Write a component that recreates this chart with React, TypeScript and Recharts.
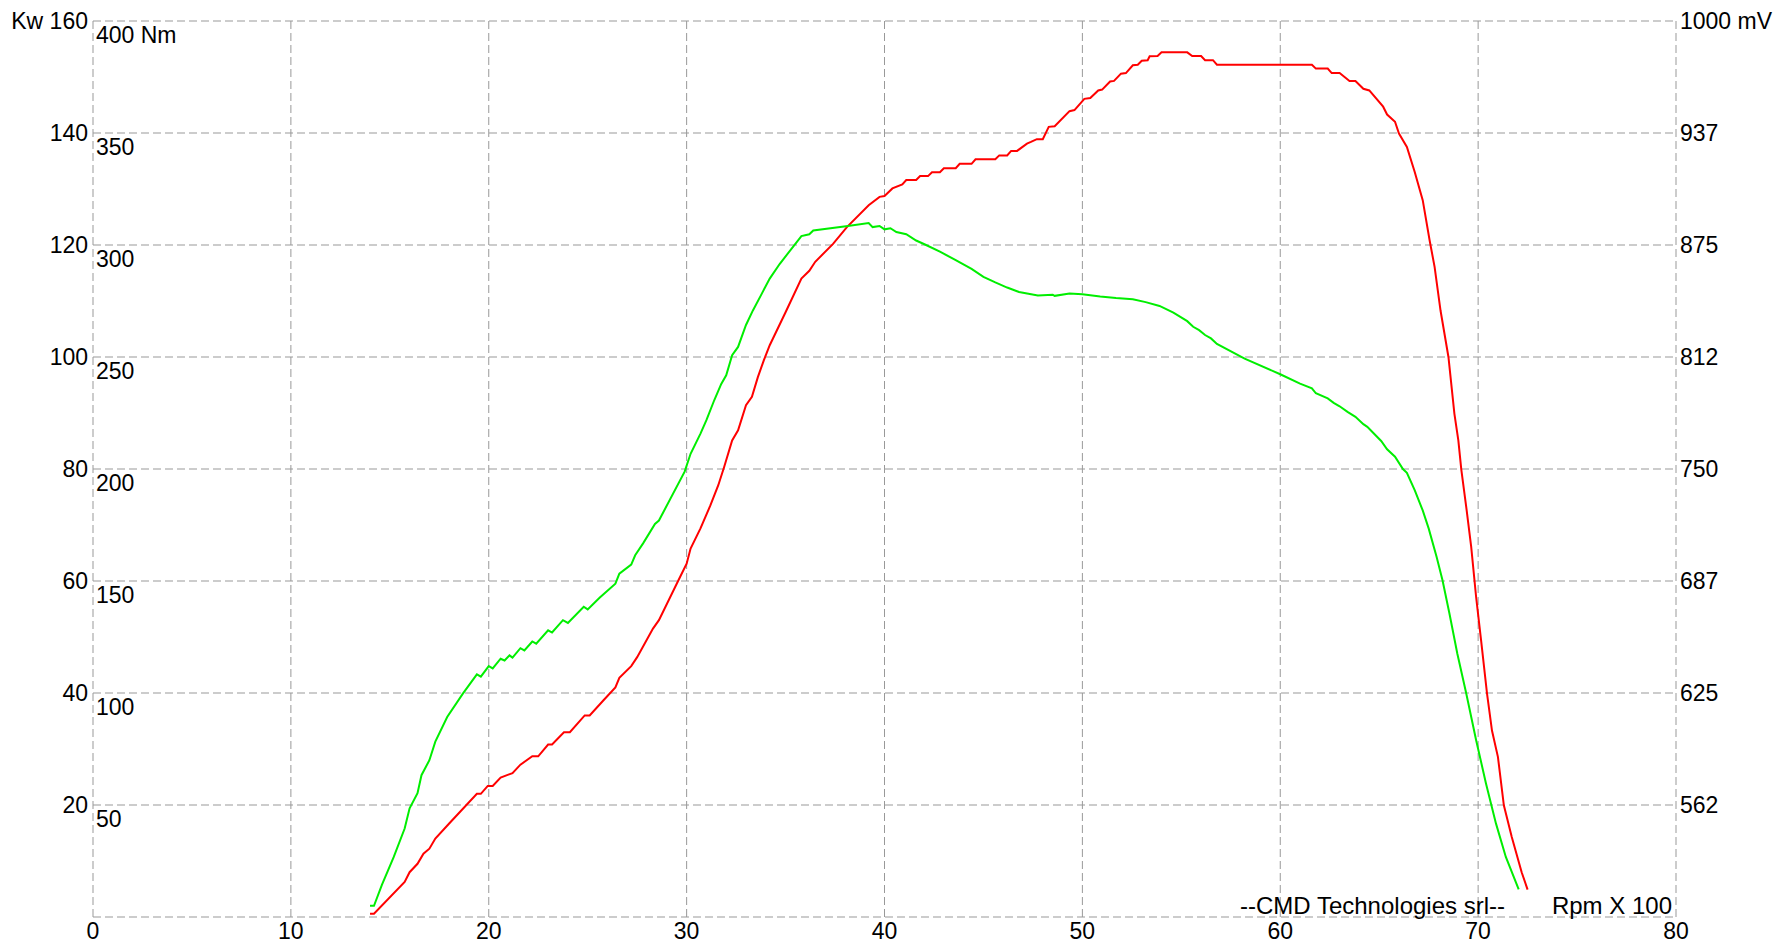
import { CartesianGrid, Line, LineChart, XAxis, YAxis } from 'recharts';

// rpm / 100 on the x axis
const rpmTicks = [0, 10, 20, 30, 40, 50, 60, 70, 80];

// left scale: kW (grid lines) with the Nm labels printed just inside the plot
const kwTicks = [0, 20, 40, 60, 80, 100, 120, 140, 160];
const kwLabels = ['', '20', '40', '60', '80', '100', '120', '140', 'Kw 160'];
const nmLabels = ['', '50', '100', '150', '200', '250', '300', '350', '400 Nm'];

// right scale: mV
const mvTicks = [500, 562.5, 625, 687.5, 750, 812.5, 875, 937.5, 1000];
const mvLabels = ['', '562', '625', '687', '750', '812', '875', '937', '1000 mV'];

// power curve (red), kW
const powerRpm = [
  14.0, 14.2, 15.75, 16.0, 16.4, 16.7, 17.0, 17.3, 18.0, 19.4, 19.6, 19.95, 20.2, 20.6, 21.2,
  21.6, 22.2, 22.5, 23.0, 23.2, 23.8, 24.1, 24.85, 25.1, 25.8, 26.4, 26.6, 27.2, 27.5, 28.3,
  28.6, 29.5, 30.0, 30.2, 30.7, 31.2, 31.6, 31.9, 32.3, 32.6, 33.0, 33.3, 33.6, 33.9, 34.2,
  35.0, 35.8, 36.2, 36.5, 37.4, 38.1, 39.2, 39.75, 40.0, 40.4, 40.9, 41.1, 41.6, 41.8, 42.2,
  42.4, 42.8, 43.0, 43.6, 43.8, 44.4, 44.6, 45.6, 45.8, 46.2, 46.4, 46.7, 47.2, 47.4, 47.7,
  48.0, 48.3, 48.6, 49.35, 49.6, 50.1, 50.4, 50.8, 51.0, 51.4, 51.6, 51.95, 52.2, 52.55, 52.8,
  53.0, 53.3, 53.4, 53.8, 54.0, 55.3, 55.55, 56.0, 56.2, 56.6, 56.8, 61.6, 61.8, 62.4, 62.6,
  63.0, 63.25, 63.5, 63.8, 64.2, 64.5, 65.2, 65.4, 65.8, 66.0, 66.4, 66.8, 67.2, 67.55, 67.8,
  68.1, 68.5, 68.8, 69.0, 69.15, 69.4, 69.65, 69.9, 70.15, 70.45, 70.7, 71.0, 71.3, 71.7, 72.2,
  72.5,
];
const powerKw = [
  0.6, 0.6, 6.25, 8.0, 9.5, 11.3, 12.2, 14.0, 16.7, 22.0, 22.0, 23.4, 23.4, 24.9, 25.7,
  27.2, 28.7, 28.7, 30.8, 30.8, 33.0, 33.0, 36.0, 36.0, 38.7, 41.0, 42.7, 44.8, 46.4, 51.5,
  53.0, 59.5, 63.1, 65.8, 69.4, 73.5, 77.1, 80.4, 85.1, 86.9, 91.4, 92.9, 96.4, 99.4, 102.1,
  108.0, 114.0, 115.4, 117.0, 120.2, 123.2, 127.1, 128.6, 128.75, 130.1, 130.8, 131.6, 131.6, 132.3, 132.3,
  133.0, 133.0, 133.7, 133.7, 134.5, 134.5, 135.3, 135.3, 136.0, 136.0, 136.8, 136.8, 138.1, 138.4, 138.9,
  138.9, 141.1, 141.2, 143.9, 144.1, 146.1, 146.25, 147.6, 147.75, 149.2, 149.3, 150.6, 150.7, 152.1, 152.2,
  152.9, 153.0, 153.7, 153.75, 154.4, 154.4, 153.75, 153.75, 153.0, 153.0, 152.2, 152.2, 151.5, 151.5, 150.7,
  150.7, 150.0, 149.3, 149.3, 147.9, 147.6, 144.7, 143.3, 142.0, 139.9, 137.5, 133.0, 128.0, 120.8, 116.1,
  108.3, 100.0, 89.9, 85.1, 79.9, 73.2, 66.1, 57.1, 49.4, 39.9, 33.3, 28.6, 19.95, 14.3, 8.0,
  4.9,
];

// torque curve (green), Nm
const torqueRpm = [
  14.0, 14.2, 14.6, 15.2, 15.75, 16.0, 16.4, 16.6, 17.0, 17.3, 17.9, 18.7, 19.4, 19.6, 20.0,
  20.2, 20.6, 20.8, 21.05, 21.2, 21.6, 21.8, 22.2, 22.4, 23.0, 23.2, 23.75, 24.0, 24.8, 25.0,
  25.6, 26.4, 26.6, 27.2, 27.4, 27.8, 28.4, 28.6, 29.9, 30.2, 30.7, 31.0, 31.4, 31.75, 32.0,
  32.3, 32.6, 33.0, 33.35, 33.8, 34.2, 34.7, 35.8, 36.2, 36.4, 38.15, 39.2, 39.4, 39.75, 40.0,
  40.3, 40.6, 41.1, 41.6, 42.1, 42.8, 43.6, 44.4, 45.0, 45.6, 46.2, 46.8, 47.75, 48.5, 48.6,
  49.35, 50.0, 50.9, 51.7, 52.55, 53.2, 53.9, 54.6, 55.3, 55.6, 55.9, 56.2, 56.5, 56.8, 58.2,
  60.0, 61.0, 61.6, 61.8, 62.4, 62.7, 63.0, 63.4, 63.8, 64.2, 64.4, 65.1, 65.4, 65.8, 66.2,
  66.4, 66.8, 67.2, 67.5, 67.9, 68.2, 68.55, 68.95, 69.4, 69.9, 70.4, 70.9, 71.4, 72.05,
];
const torqueNm = [
  5, 5, 14.3, 26.8, 39.5, 48.5, 55.3, 63.3, 70, 78.3, 89.3, 99.8, 108.3, 107.3, 112,
  111, 115.3, 114.5, 116.8, 115.8, 120, 119, 123, 122, 128, 127, 132.5, 131.3, 138.5, 137.3,
  142.5, 148.8, 153.3, 157.3, 161.5, 166.8, 175.5, 177, 198.8, 206.8, 215.8, 221.8, 230.8, 238, 241.8,
  250.8, 254.5, 264.3, 270.8, 278.3, 285, 291.5, 304, 304.8, 306.5, 308.5, 309.8, 308, 308.5, 307,
  307.5, 305.8, 304.8, 302, 300, 297, 293.3, 289.3, 285.8, 283.3, 281, 279, 277.5, 277.8, 277.3,
  278.3, 278, 277, 276.3, 275.8, 274.5, 272.8, 269.8, 266, 263.5, 262, 259.8, 258.3, 255.8, 249.3,
  242.3, 238.1, 236, 233.8, 231.5, 229.5, 228, 225.5, 223.3, 220, 218.8, 212.5, 208.8, 205.5, 200,
  198.3, 190.5, 181.5, 173.5, 160.8, 150.3, 135.5, 117.5, 99.8, 78.9, 59.5, 41.8, 26.8, 12.3,
];

const powerData = powerRpm.map((rpm, i) => ({ rpm, kw: powerKw[i] }));
const torqueData = torqueRpm.map((rpm, i) => ({ rpm, nm: torqueNm[i] }));

const WIDTH = 1778;
const HEIGHT = 943;
const FONT = '"Liberation Sans", Arial, sans-serif';
const FONT_SIZE = 23;

interface TickProps {
  x?: number;
  y?: number;
  index?: number;
  payload?: { value: number };
}

function KwTick({ x = 0, y = 0, index = 0 }: TickProps) {
  return (
    <g>
      <text x={x - 5} y={y} dy="0.35em" textAnchor="end" fontSize={FONT_SIZE} fontFamily={FONT} fill="#000">
        {kwLabels[index]}
      </text>
      <text x={x + 3} y={y + 14} dy="0.35em" textAnchor="start" fontSize={FONT_SIZE} fontFamily={FONT} fill="#000">
        {nmLabels[index]}
      </text>
    </g>
  );
}

function MvTick({ x = 0, y = 0, index = 0 }: TickProps) {
  return (
    <text x={x + 4} y={y} dy="0.35em" textAnchor="start" fontSize={FONT_SIZE} fontFamily={FONT} fill="#000">
      {mvLabels[index]}
    </text>
  );
}

function RpmTick({ x = 0, y = 0, payload }: TickProps) {
  return (
    <text x={x} y={y + 14} dy="0.35em" textAnchor="middle" fontSize={FONT_SIZE} fontFamily={FONT} fill="#000">
      {payload?.value}
    </text>
  );
}

export default function App() {
  return (
    <div style={{ position: 'absolute', left: 0, top: 0, width: WIDTH, height: HEIGHT, background: '#fff' }}>
      <LineChart width={WIDTH} height={HEIGHT} margin={{ top: 21, right: 0, bottom: 0, left: 0 }}>
        <CartesianGrid xAxisId="rpm" yAxisId="kw" stroke="#999" strokeDasharray="8 4" />
        <XAxis
          xAxisId="rpm"
          type="number"
          dataKey="rpm"
          domain={[0, 80]}
          ticks={rpmTicks}
          height={26}
          axisLine={false}
          tickLine={false}
          tickSize={0}
          tickMargin={0}
          tick={<RpmTick />}
          allowDataOverflow
        />
        <YAxis
          yAxisId="kw"
          orientation="left"
          type="number"
          width={93}
          domain={[0, 160]}
          ticks={kwTicks}
          axisLine={false}
          tickLine={false}
          tickSize={0}
          tickMargin={0}
          tick={<KwTick />}
          allowDataOverflow
        />
        <YAxis yAxisId="nm" type="number" hide domain={[0, 400]} allowDataOverflow />
        <YAxis
          yAxisId="mv"
          orientation="right"
          type="number"
          width={102}
          domain={[500, 1000]}
          ticks={mvTicks}
          axisLine={false}
          tickLine={false}
          tickSize={0}
          tickMargin={0}
          tick={<MvTick />}
          allowDataOverflow
        />
        <Line
          xAxisId="rpm"
          yAxisId="kw"
          data={powerData}
          dataKey="kw"
          type="linear"
          stroke="#ff0000"
          strokeWidth={2}
          dot={false}
          isAnimationActive={false}
        />
        <Line
          xAxisId="rpm"
          yAxisId="nm"
          data={torqueData}
          dataKey="nm"
          type="linear"
          stroke="#00ee00"
          strokeWidth={2}
          dot={false}
          isAnimationActive={false}
        />
      </LineChart>
      <svg
        width={WIDTH}
        height={HEIGHT}
        style={{ position: 'absolute', left: 0, top: 0, pointerEvents: 'none' }}
      >
        <text x={1505} y={914} textAnchor="end" fontSize={24} fontFamily={FONT} fill="#000">
          --CMD Technologies srl--
        </text>
        <text x={1672} y={914} textAnchor="end" fontSize={24} fontFamily={FONT} fill="#000">
          Rpm X 100
        </text>
      </svg>
    </div>
  );
}
